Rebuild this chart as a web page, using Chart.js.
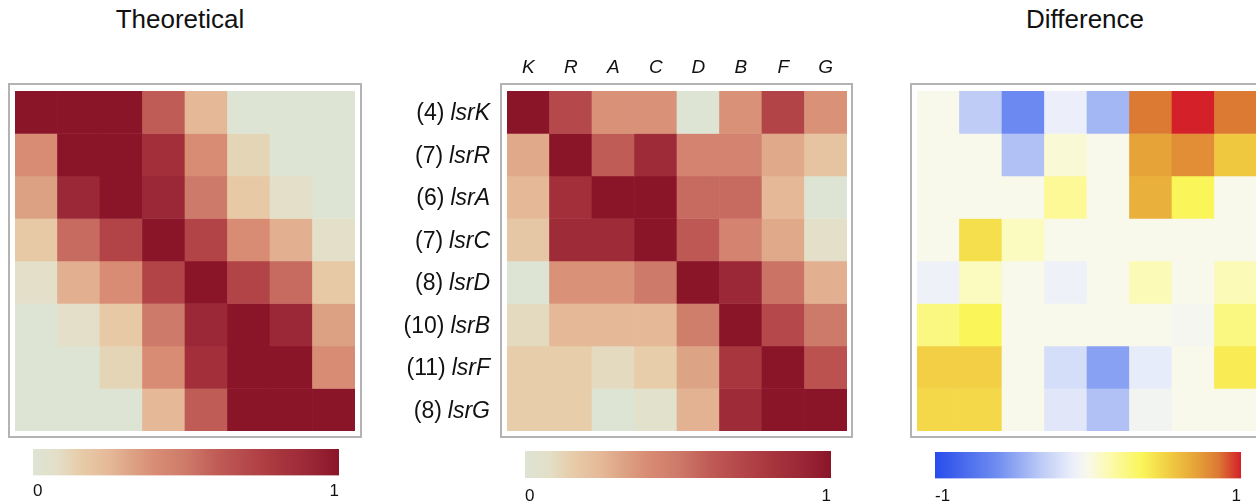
<!DOCTYPE html>
<html>
<head>
<meta charset="utf-8">
<script src="https://cdn.jsdelivr.net/npm/chart.js@4.4.1/dist/chart.umd.min.js"></script>
<style>
html, body { margin: 0; padding: 0; background: #fff; overflow: hidden; width: 1256px; height: 503px; }
canvas { position: absolute; }
.frame { position: absolute; border: 2px solid #b3b3b3; box-sizing: border-box; }
.title { position: absolute; width: 300px; text-align: center; font: 26px "Liberation Sans", Arial, sans-serif; line-height: 26px; color: #111; }
</style>
</head>
<body>
<div class="title" style="left:30px; top:6px;">Theoretical</div>
<div class="title" style="left:935px; top:6px;">Difference</div>

<div class="frame" style="left:8px; top:83px; width:354px; height:355px;"></div>
<div class="frame" style="left:500px; top:83px; width:353px; height:355px;"></div>
<div class="frame" style="left:910px; top:83px; width:360px; height:355px;"></div>

<canvas id="theoryChart" width="340" height="340" style="left:15px; top:91px;"></canvas>
<canvas id="lsrChart" width="470" height="390" style="left:380px; top:45px;"></canvas>
<canvas id="diffChart" width="340" height="340" style="left:917px; top:91px;"></canvas>

<canvas id="theoryBar" width="326" height="57" style="left:23px; top:445px;"></canvas>
<canvas id="lsrBar" width="326" height="58" style="left:515px; top:447px;"></canvas>
<canvas id="diffBar" width="326" height="57" style="left:925px; top:448px;"></canvas>

<script>
var colLabels = ['K', 'R', 'A', 'C', 'D', 'B', 'F', 'G'];
var rowGenes = ['lsrK', 'lsrR', 'lsrA', 'lsrC', 'lsrD', 'lsrB', 'lsrF', 'lsrG'];
var rowCounts = ['(4)', '(7)', '(6)', '(7)', '(8)', '(10)', '(11)', '(8)'];

// rows top to bottom, columns left to right
var theoretical = [
    [1, 1, 1, 0.6, 0.25, 0, 0, 0],
    [0.4, 1, 1, 0.85, 0.4, 0.12, 0, 0],
    [0.33, 0.9, 1, 0.9, 0.5, 0.17, 0.08, 0],
    [0.17, 0.55, 0.72, 1, 0.72, 0.4, 0.28, 0.08],
    [0.08, 0.28, 0.4, 0.72, 1, 0.72, 0.55, 0.17],
    [0, 0.08, 0.17, 0.5, 0.9, 1, 0.9, 0.33],
    [0, 0, 0.12, 0.4, 0.85, 1, 1, 0.4],
    [0, 0, 0, 0.25, 0.6, 1, 1, 1]
];

var observed = [
    [1, 0.7, 0.38, 0.38, 0, 0.38, 0.72, 0.38],
    [0.3, 1, 0.6, 0.88, 0.45, 0.45, 0.3, 0.2],
    [0.25, 0.85, 1, 1, 0.55, 0.55, 0.25, 0],
    [0.18, 0.88, 0.88, 1, 0.62, 0.45, 0.3, 0.08],
    [0, 0.38, 0.38, 0.5, 1, 0.9, 0.52, 0.28],
    [0.1, 0.25, 0.25, 0.25, 0.48, 1, 0.7, 0.5],
    [0.15, 0.15, 0.1, 0.15, 0.32, 0.8, 1, 0.65],
    [0.15, 0.15, 0, 0.05, 0.27, 0.88, 1, 1]
];

var difference = [
    [0, -0.3, -0.62, -0.1, -0.4, 0.85, 1, 0.85],
    [0, 0, -0.35, 0.05, 0, 0.7, 0.78, 0.55],
    [0, 0, 0, 0.2, 0, 0.65, 0.35, 0],
    [0, 0.45, 0.1, 0, 0, 0, 0, 0],
    [-0.08, 0.1, 0, -0.08, 0, 0.12, 0, 0.12],
    [0.25, 0.35, 0, 0, 0, 0, -0.03, 0.25],
    [0.52, 0.52, 0, -0.2, -0.5, -0.12, 0, 0.4],
    [0.48, 0.48, 0, -0.15, -0.35, -0.05, 0, 0]
];

var seqRange = [0, 1];
var divRange = [-1, 1];

var seqStops = [
    [0, [221, 228, 211]],
    [0.08, [227, 223, 200]],
    [0.15, [231, 205, 170]],
    [0.25, [229, 184, 152]],
    [0.33, [220, 160, 130]],
    [0.4, [216, 140, 116]],
    [0.5, [206, 122, 106]],
    [0.6, [192, 92, 86]],
    [0.7, [181, 72, 74]],
    [0.8, [168, 54, 62]],
    [0.9, [155, 40, 54]],
    [1, [138, 21, 41]]
];

var divStops = [
    [-1, [40, 76, 236]],
    [-0.6, [110, 140, 240]],
    [-0.3, [190, 204, 246]],
    [-0.1, [236, 239, 250]],
    [0, [248, 249, 234]],
    [0.15, [252, 250, 170]],
    [0.35, [250, 246, 90]],
    [0.55, [240, 200, 64]],
    [0.7, [230, 164, 56]],
    [0.85, [220, 122, 52]],
    [1, [212, 32, 40]]
];

var fontFamily = '"Liberation Sans", Arial, sans-serif';
var textColor = '#111';

function mapColor(stops, v) {
    if (v <= stops[0][0]) return rgb(stops[0][1]);
    for (var i = 1; i < stops.length; i++) {
        if (v <= stops[i][0]) {
            var a = stops[i - 1], b = stops[i];
            var t = (v - a[0]) / (b[0] - a[0]);
            return rgb([0, 1, 2].map(function (k) { return a[1][k] + (b[1][k] - a[1][k]) * t; }));
        }
    }
    return rgb(stops[stops.length - 1][1]);
}

function rgb(c) {
    return 'rgb(' + Math.round(c[0]) + ',' + Math.round(c[1]) + ',' + Math.round(c[2]) + ')';
}

// one floating-bar dataset per matrix row
function heatDatasets(matrix, stops) {
    return matrix.map(function (row, r) {
        return {
            data: row.map(function () { return [r, r + 1]; }),
            backgroundColor: row.map(function (v) { return mapColor(stops, v); }),
            borderWidth: 0
        };
    });
}

var lsrLabels = {
    id: 'lsrLabels',
    afterDraw: function (chart) {
        var ctx = chart.ctx, xs = chart.scales.x, ys = chart.scales.y, area = chart.chartArea;
        ctx.save();
        ctx.fillStyle = textColor;
        ctx.textBaseline = 'alphabetic';
        ctx.font = 'italic 19px ' + fontFamily;
        ctx.textAlign = 'center';
        colLabels.forEach(function (l, i) {
            ctx.fillText(l, xs.getPixelForValue(i), area.top - 18);
        });
        ctx.textAlign = 'right';
        var right = area.left - 17;
        rowGenes.forEach(function (g, r) {
            var yb = ys.getPixelForValue(r + 0.5) + 8;
            ctx.font = 'italic 23px ' + fontFamily;
            var w = ctx.measureText(g).width;
            ctx.fillText(g, right, yb);
            ctx.font = '23px ' + fontFamily;
            ctx.fillText(rowCounts[r], right - w - 6, yb);
        });
        ctx.restore();
    }
};

function createHeatmap(id, matrix, stops, padding, extra) {
    new Chart(document.getElementById(id), {
        type: 'bar',
        data: {labels: colLabels, datasets: heatDatasets(matrix, stops)},
        options: {
            responsive: false,
            animation: false,
            layout: {padding: padding},
            datasets: {bar: {barPercentage: 1, categoryPercentage: 1, grouped: false}},
            plugins: {legend: {display: false}, tooltip: {enabled: false}},
            scales: {
                x: {display: false},
                y: {display: false, min: 0, max: 8, reverse: true}
            }
        },
        plugins: extra ? [extra] : []
    });
}

function createColorbar(id, range, stops, tickPad) {
    new Chart(document.getElementById(id), {
        type: 'bar',
        data: {
            labels: [''],
            datasets: [{
                data: [range],
                borderWidth: 0,
                barPercentage: 1,
                categoryPercentage: 1,
                backgroundColor: function (c) {
                    var area = c.chart.chartArea;
                    if (!area) return 'transparent';
                    var g = c.chart.ctx.createLinearGradient(area.left, 0, area.right, 0);
                    stops.forEach(function (s) {
                        g.addColorStop((s[0] - range[0]) / (range[1] - range[0]), rgb(s[1]));
                    });
                    return g;
                }
            }]
        },
        options: {
            indexAxis: 'y',
            responsive: false,
            animation: false,
            layout: {padding: {left: 10, right: 10, top: 4, bottom: 0}},
            plugins: {legend: {display: false}, tooltip: {enabled: false}},
            scales: {
                x: {
                    min: range[0],
                    max: range[1],
                    grid: {display: false, drawTicks: false},
                    border: {display: false},
                    afterBuildTicks: function (s) {
                        s.ticks = range.map(function (v) { return {value: v}; });
                    },
                    ticks: {
                        align: 'inner',
                        padding: tickPad,
                        maxRotation: 0,
                        color: textColor,
                        font: {size: 17, family: fontFamily}
                    }
                },
                y: {display: false}
            }
        }
    });
}

createHeatmap('theoryChart', theoretical, seqStops, 0);
createHeatmap('lsrChart', observed, seqStops, {left: 127, top: 46, right: 3, bottom: 4}, lsrLabels);
createHeatmap('diffChart', difference, divStops, 0);

createColorbar('theoryBar', seqRange, seqStops, 6);
createColorbar('lsrBar', seqRange, seqStops, 8);
createColorbar('diffBar', divRange, divStops, 8);
</script>
</body>
</html>
